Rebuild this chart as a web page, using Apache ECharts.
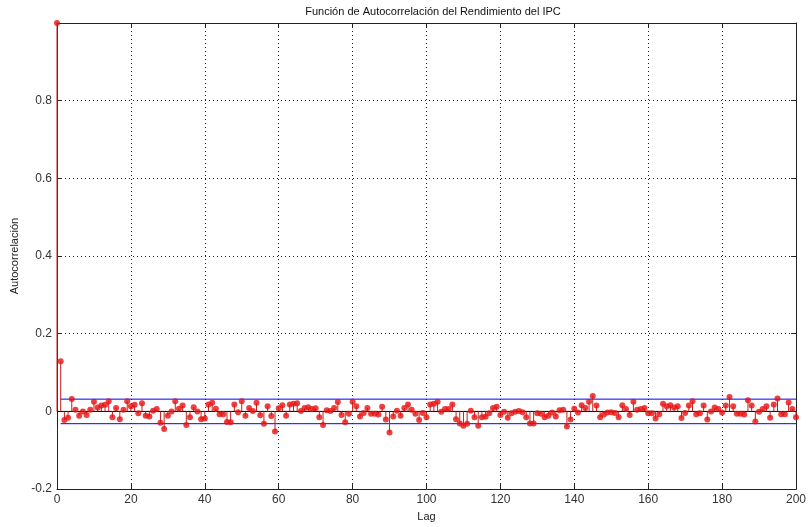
<!DOCTYPE html>
<html>
<head>
<meta charset="utf-8">
<script src="https://cdn.jsdelivr.net/npm/echarts@6/dist/echarts.min.js"></script>
<style>
  html, body { margin: 0; padding: 0; background: #fff; }
  #chart { width: 809px; height: 527px; }
</style>
</head>
<body>
<div id="chart"></div>
<script>
// Sample autocorrelation of the CPI return, lags 0..200
const acf = [
  1.000, 0.129, -0.022, -0.016, 0.032, 0.004, -0.011, 0.000, -0.009, 0.004,
  0.025, 0.010, 0.015, 0.017, 0.026, -0.015, 0.009, -0.020, 0.004, 0.026,
  0.013, 0.017, -0.005, 0.021, -0.011, -0.013, 0.002, 0.006, -0.029, -0.045,
  -0.011, 0.000, 0.026, 0.007, 0.015, -0.035, -0.015, 0.011, 0.000, -0.020,
  -0.018, 0.018, 0.022, 0.007, -0.007, -0.007, -0.027, -0.028, 0.018, -0.002,
  0.026, -0.011, 0.009, 0.001, 0.022, -0.010, -0.032, 0.013, -0.012, -0.052,
  0.008, 0.016, -0.011, 0.018, 0.020, 0.021, 0.001, 0.009, 0.011, 0.006,
  0.008, -0.015, -0.035, 0.003, 0.001, 0.009, 0.024, -0.009, -0.028, -0.006,
  0.025, 0.013, -0.013, -0.004, 0.009, -0.006, -0.006, -0.008, 0.012, -0.021,
  -0.054, -0.013, 0.002, -0.011, 0.009, 0.018, 0.004, -0.006, -0.022, -0.004,
  -0.015, 0.018, 0.020, 0.025, -0.001, 0.006, 0.006, 0.018, -0.020, -0.031,
  -0.037, -0.032, 0.002, -0.015, -0.037, -0.015, -0.014, -0.005, 0.009, 0.012,
  -0.009, -0.001, -0.016, -0.005, -0.001, 0.001, -0.002, -0.015, -0.031, -0.031,
  -0.005, -0.006, -0.015, -0.011, -0.003, -0.013, 0.003, 0.004, -0.039, -0.021,
  0.007, -0.003, 0.016, 0.009, 0.025, 0.040, 0.015, -0.015, -0.008, -0.003,
  -0.002, -0.004, -0.015, 0.016, 0.006, -0.009, 0.025, 0.004, 0.006, 0.009,
  -0.005, -0.005, -0.018, -0.007, 0.020, 0.013, 0.016, 0.010, 0.013, -0.017,
  -0.004, 0.015, 0.026, -0.007, -0.005, 0.015, -0.021, 0.000, 0.010, 0.006,
  -0.003, 0.015, 0.037, 0.013, -0.006, -0.006, -0.008, 0.029, 0.015, -0.026,
  -0.001, 0.006, 0.013, -0.016, 0.018, 0.033, -0.007, -0.007, 0.023, 0.006,
  -0.015
];
const lags = acf.map((_, i) => i);

// Confidence band (approx. 2/sqrt(N)), drawn from lag 1 to the last lag
const confBound = [0.0316];
const bandLags = [1, 200];
const baseLags = [0, 200];

// Axis ticks
const xTicks = [0, 20, 40, 60, 80, 100, 120, 140, 160, 180, 200];
const yTicks = [-0.2, 0, 0.2, 0.4, 0.6, 0.8, 1];

const titleText = 'Función de Autocorrelación del Rendimiento del IPC';
const xName = 'Lag';
const yName = 'Autocorrelación';

const FONT = "'Liberation Sans', Arial, Helvetica, sans-serif";
const points = lags.map((l, i) => [l, acf[i]]);

const chart = echarts.init(document.getElementById('chart'), null, { renderer: 'canvas' });

const dotted = { color: '#222', width: 1, type: [1, 3] };
const baseAxis = {
  axisLine: { show: true, onZero: false, lineStyle: { color: '#222', width: 1 } },
  axisTick: { show: true, inside: true, length: 5, lineStyle: { color: '#222' } },
};

chart.setOption({
  animation: false,
  backgroundColor: '#ffffff',
  title: {
    text: titleText,
    left: 428,
    top: 1,
    textAlign: 'center',
    textStyle: { fontFamily: FONT, fontSize: 11, fontWeight: 'normal', color: '#111' }
  },
  grid: { left: 57, right: 10, top: 23, bottom: 37, containLabel: false },
  xAxis: [
    Object.assign({}, baseAxis, {
      type: 'value', position: 'bottom',
      min: xTicks[0], max: xTicks[xTicks.length - 1], interval: xTicks[1] - xTicks[0],
      name: xName, nameLocation: 'middle', nameGap: 18,
      nameTextStyle: { fontFamily: FONT, fontSize: 11, color: '#222' },
      axisLabel: { fontFamily: FONT, fontSize: 12, color: '#333', margin: 5 },
      splitLine: { show: true, lineStyle: dotted }
    }),
    Object.assign({}, baseAxis, {
      type: 'value', position: 'top',
      min: xTicks[0], max: xTicks[xTicks.length - 1], interval: xTicks[1] - xTicks[0],
      axisLabel: { show: false }, splitLine: { show: false }
    })
  ],
  yAxis: [
    Object.assign({}, baseAxis, {
      type: 'value', position: 'left',
      min: yTicks[0], max: yTicks[yTicks.length - 1], interval: yTicks[2] - yTicks[1],
      name: yName, nameLocation: 'middle', nameGap: 30, nameRotate: 90,
      nameTextStyle: { fontFamily: FONT, fontSize: 11, color: '#222' },
      axisLabel: {
        fontFamily: FONT, fontSize: 12, color: '#333', margin: 5,
        formatter: v => (Math.abs(v - 1) < 1e-9 ? '' : String(Math.round(v * 10) / 10))
      },
      splitLine: { show: true, lineStyle: dotted }
    }),
    Object.assign({}, baseAxis, {
      type: 'value', position: 'right',
      min: yTicks[0], max: yTicks[yTicks.length - 1], interval: yTicks[2] - yTicks[1],
      axisLabel: { show: false }, splitLine: { show: false }
    })
  ],
  series: [
    {
      // upper and lower confidence bounds
      type: 'line', silent: true, symbol: 'none', z: 3,
      data: bandLags.map(l => [l, confBound[0]]),
      lineStyle: { color: '#0000ff', width: 1 }
    },
    {
      type: 'line', silent: true, symbol: 'none', z: 3,
      data: bandLags.map(l => [l, -confBound[0]]),
      lineStyle: { color: '#0000ff', width: 1 }
    },
    {
      // stem baseline
      type: 'line', silent: true, symbol: 'none', z: 4,
      data: baseLags.map(l => [l, 0]),
      lineStyle: { color: '#000', width: 1 }
    },
    {
      // stems
      type: 'custom', z: 5, silent: true,
      data: points,
      renderItem: (params, api) => {
        const x = api.value(0), y = api.value(1);
        const p0 = api.coord([x, 0]);
        const p1 = api.coord([x, y]);
        return {
          type: 'line',
          shape: { x1: p0[0], y1: p0[1], x2: p1[0], y2: p1[1] },
          style: { stroke: '#c02020', lineWidth: 1 }
        };
      }
    },
    {
      // stem heads
      type: 'scatter', z: 6, silent: true, clip: false,
      data: points,
      symbol: 'circle', symbolSize: 6,
      itemStyle: { color: '#e81010' }
    }
  ]
});
</script>
</body>
</html>
